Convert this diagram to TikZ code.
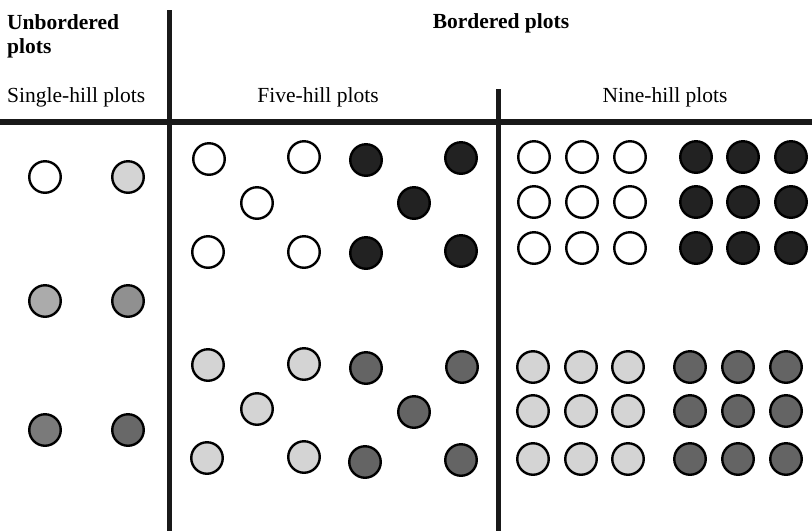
\documentclass[tikz,border=0pt]{standalone}
\usepackage{fontspec}
\setmainfont{Liberation Serif}
\definecolor{cA}{HTML}{D4D4D4}
\definecolor{cB}{HTML}{ABABAB}
\definecolor{cC}{HTML}{909090}
\definecolor{cD}{HTML}{7A7A7A}
\definecolor{cE}{HTML}{686868}
\definecolor{cF}{HTML}{646464}
\definecolor{cK}{HTML}{222222}
\begin{document}
\begin{tikzpicture}[x=1pt,y=-1pt,
  dot/.style={circle,draw=black,line width=2.4pt,minimum size=31.5pt,inner sep=0pt},
  lbl/.style={anchor=base west,inner sep=0pt,font=\fontsize{21.5}{24}\selectfont},
  blbl/.style={lbl,font=\fontsize{21.5}{24}\selectfont\bfseries},
  rule/.style={line width=5pt,black!90}]
\useasboundingbox[fill=white] (0,0) rectangle (812,531);
% rules
\coordinate (v1t) at (169,10); \coordinate (v1b) at (169,531);
\coordinate (v2t) at (498,89); \coordinate (v2b) at (498,531);
\coordinate (hl) at (0,122); \coordinate (hr) at (812,122);
\draw[rule] (v1t) -- (v1b);
\draw[rule] (v2t) -- (v2b);
\draw[rule,line width=6pt] (hl) -- (hr);
% labels
\node[blbl] (ub1) at (7,29) {Unbordered};
\node[blbl] (ub2) at (7,53) {plots};
\node[blbl,anchor=base] (bp) at (501,28) {Bordered plots};
\node[lbl] (sh) at (7,102) {Single-hill plots};
\node[lbl,anchor=base] (fh) at (318,102) {Five-hill plots};
\node[lbl,anchor=base] (nh) at (665,102) {Nine-hill plots};
% single-hill
\node[dot,fill=white] (s1) at (45,177) {};
\node[dot,fill=cA] (s2) at (128,177) {};
\node[dot,fill=cB] (s3) at (45,301) {};
\node[dot,fill=cC] (s4) at (128,301) {};
\node[dot,fill=cD] (s5) at (45,430) {};
\node[dot,fill=cE] (s6) at (128,430) {};
% five-hill top
\foreach \x/\y/\c [count=\i] in {209/159/white,304/157/white,257/203/white,208/252/white,304/252/white,
  366/160/cK,461/158/cK,414/203/cK,366/253/cK,461/251/cK}
  \node[dot,fill=\c] (f\i) at (\x,\y) {};
% five-hill bottom
\foreach \x/\y/\c [count=\i] in {208/365/cA,304/364/cA,257/409/cA,207/458/cA,304/457/cA,
  366/368/cF,462/367/cF,414/412/cF,365/462/cF,461/460/cF}
  \node[dot,fill=\c] (g\i) at (\x,\y) {};
% nine-hill top
\foreach \x [count=\i] in {534,582,630}
  \foreach \y [count=\j] in {157,202,248}
    \node[dot,fill=white] (nw\i\j) at (\x,\y) {};
\foreach \x [count=\i] in {696,743,791}
  \foreach \y [count=\j] in {157,202,248}
    \node[dot,fill=cK] (nk\i\j) at (\x,\y) {};
% nine-hill bottom
\foreach \x [count=\i] in {533,581,628}
  \foreach \y [count=\j] in {367,411,459}
    \node[dot,fill=cA] (nl\i\j) at (\x,\y) {};
\foreach \x [count=\i] in {690,738,786}
  \foreach \y [count=\j] in {367,411,459}
    \node[dot,fill=cF] (nd\i\j) at (\x,\y) {};
\end{tikzpicture}
\end{document}
